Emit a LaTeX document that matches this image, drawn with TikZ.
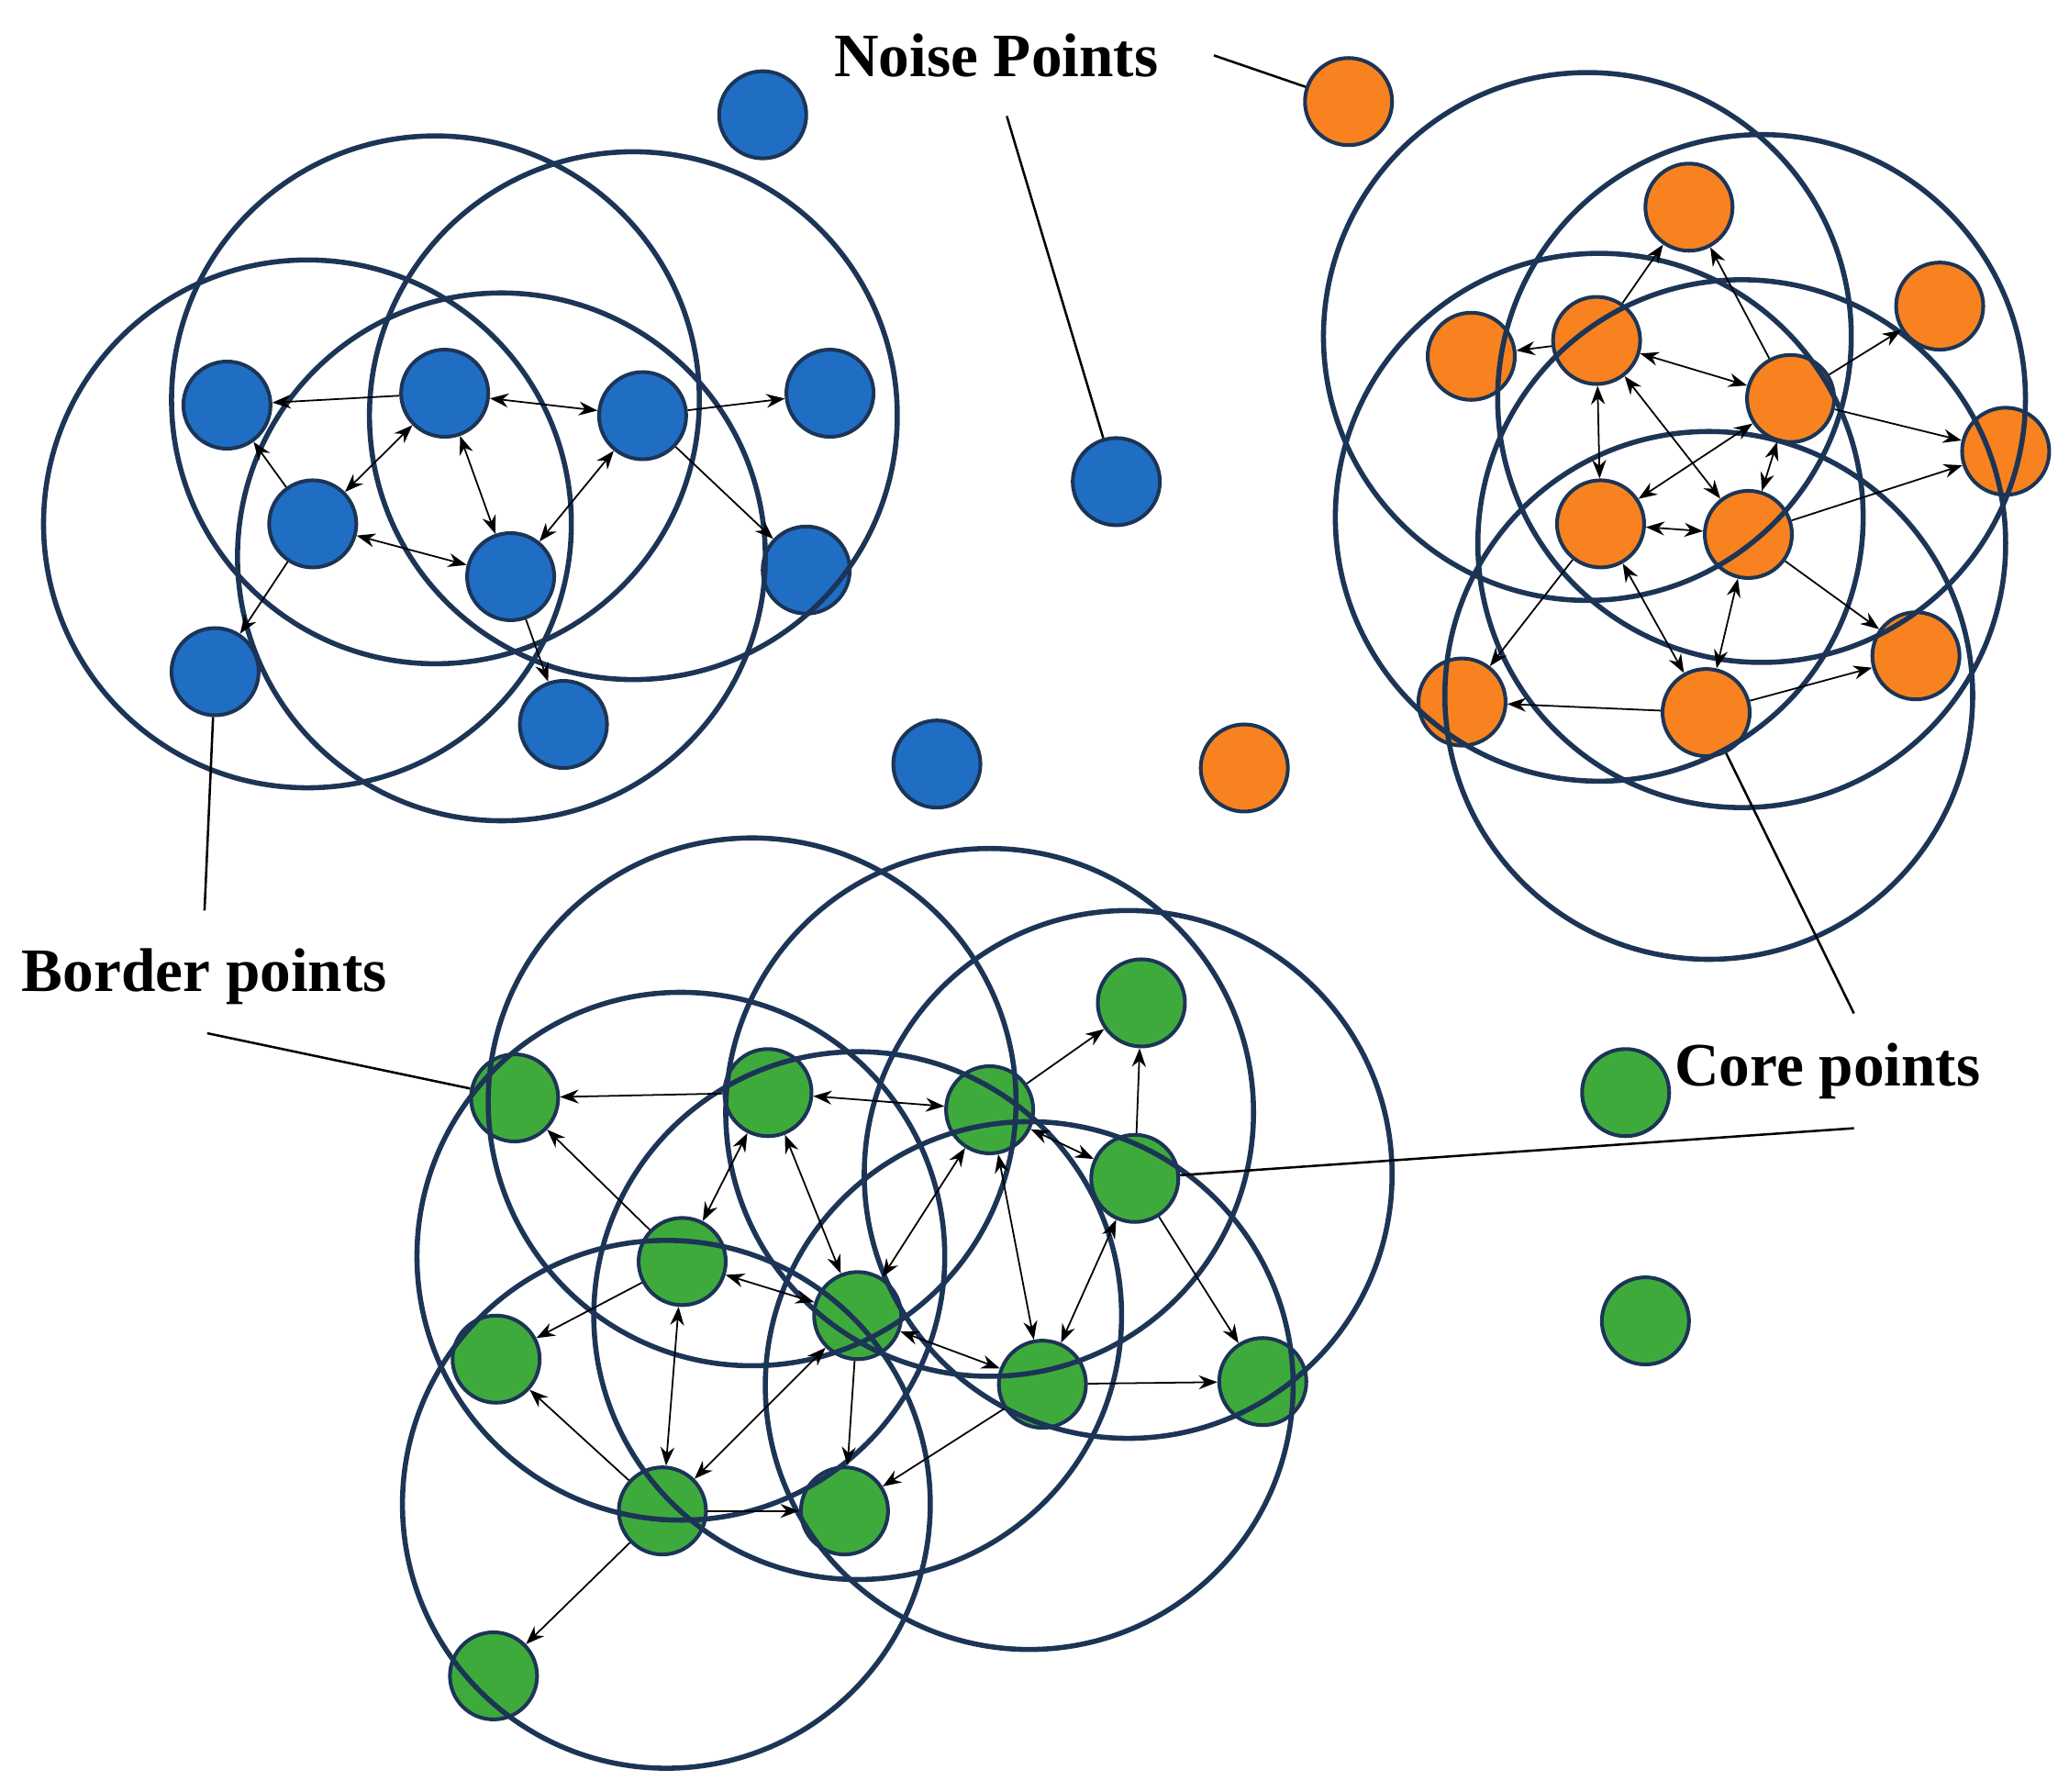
\documentclass[tikz,border=0pt]{standalone}
\usepackage{fontspec}
\setmainfont{Liberation Serif}
\usetikzlibrary{arrows.meta}
\definecolor{bl}{HTML}{1F6EC4}
\definecolor{or}{HTML}{F7821F}
\definecolor{gr}{HTML}{3FAA3C}
\definecolor{nv}{HTML}{1C3557}
\begin{document}
\begin{tikzpicture}[x=0.01cm,y=-0.01cm,
  pt/.style={circle,draw=nv,line width=0.8pt,minimum size=0.66cm,inner sep=0pt},
  big/.style={draw=nv,line width=1.1pt},
  ar/.style={-{Stealth[length=4pt,width=3pt]},line width=0.35pt},
  da/.style={{Stealth[length=4pt,width=3pt]}-{Stealth[length=4pt,width=3pt]},line width=0.35pt},
  lab/.style={font=\bfseries\fontsize{13.3}{16}\selectfont,inner sep=0pt},
  ln/.style={line width=0.5pt}]
\useasboundingbox (0,0) rectangle (1568,1358);
% points
\foreach \n/\x/\y in {B1/172/307,B2/337/298,B3/487/315,B4/629/298,B5/237/397,B6/387/437,B7/611/432,B8/163/509,B9/427/549,BN1/578/87,BN2/846/365,BN3/710/579}
  \node[pt,fill=bl] (\n) at (\x,\y) {};
\foreach \n/\x/\y in {O1/1280/157,O2/1470/232,O3/1115/270,O4/1210/258,O5/1357/302,O6/1520/342,O7/1213/397,O8/1325/405,O9/1452/497,O10/1108/532,O11/1293/540,ON1/1022/77,ON2/943/582}
  \node[pt,fill=or] (\n) at (\x,\y) {};
\foreach \n/\x/\y in {G1/865/760,G2/390/832,G3/582/828,G4/750/841,G5/860/893,G6/517/956,G7/650/997,G8/376/1030,G9/790/1049,G10/957/1047,G11/502/1145,G12/640/1145,G13/374/1270,GN1/1232/828,GN2/1247/1001}
  \node[pt,fill=gr] (\n) at (\x,\y) {};
% big circles
\foreach \x/\y in {330/303,480/315,233/397,380/422,
  1203/255,1335/302,1212/392,1320/412,1295/527,
  570/835,750/843,855/890,516/952,650/997,780/1050,505/1140}
  \draw[big] (\x,\y) circle (200);
% arrows
\foreach \a/\b in {B2/B1,B3/B4,B5/B1,B3/B7,B5/B8,B6/B9,
  O4/O3,O4/O1,O5/O1,O5/O2,O5/O6,O8/O6,O7/O10,O8/O9,O11/O10,O11/O9,
  G3/G2,G4/G1,G5/G1,G6/G2,G6/G8,G5/G10,G9/G10,G11/G8,G11/G12,G11/G13,G7/G12,G9/G12}
  \draw[ar] (\a) -- (\b);
\foreach \a/\b in {B2/B3,B5/B2,B5/B6,B6/B2,B6/B3,
  O4/O5,O4/O7,O4/O8,O5/O7,O5/O8,O7/O8,O8/O11,O7/O11,
  G3/G4,G4/G5,G6/G3,G3/G7,G4/G7,G6/G7,G4/G9,G5/G9,G7/G9,G6/G11,G7/G11}
  \draw[da] (\a) -- (\b);
% labels
\node[lab] (np) at (755,42) {Noise Points};
\node[lab] (bp) at (155,740) {Border points};
\node[lab] (cp) at (1385,812) {Core points};
\coordinate (n1) at (763,88); \coordinate (n2) at (920,42);
\coordinate (b1) at (155,690); \coordinate (b2) at (157,783);
\coordinate (c1) at (1405,768); \coordinate (c2) at (1405,855);
\draw[ln] (n1) -- (BN2);
\draw[ln] (n2) -- (ON1);
\draw[ln] (b1) -- (B8);
\draw[ln] (b2) -- (G2);
\draw[ln] (c1) -- (O11);
\draw[ln] (c2) -- (G5);
\end{tikzpicture}
\end{document}
